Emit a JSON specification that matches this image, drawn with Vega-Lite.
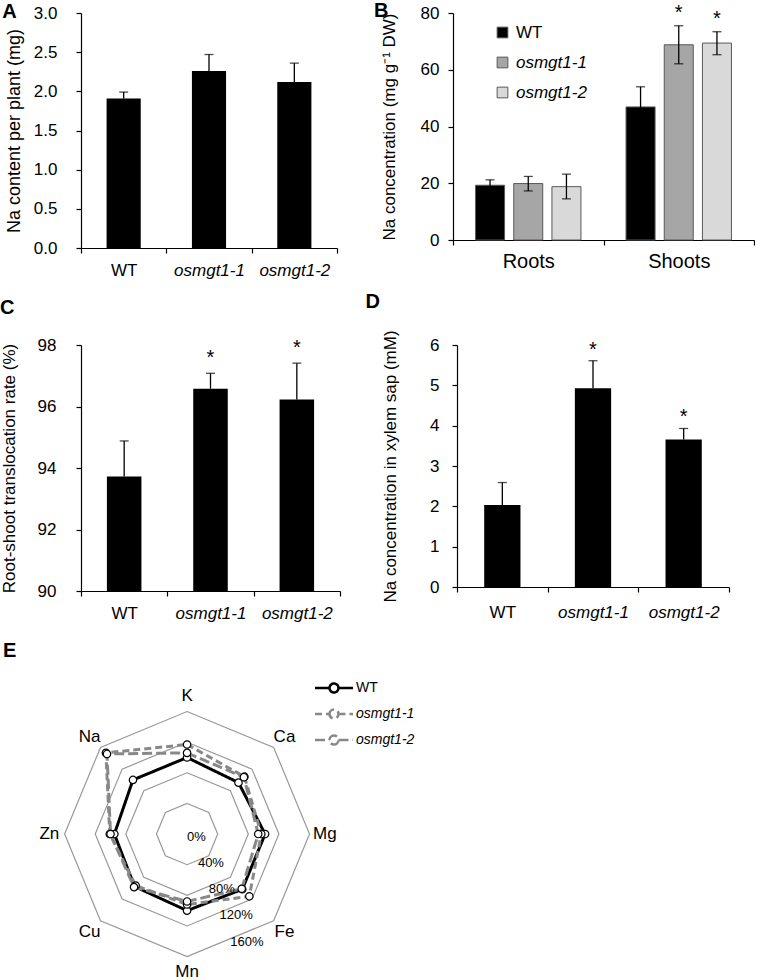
{
  "$schema": "https://vega.github.io/schema/vega-lite/v6.json",
  "padding": {"left": 0, "top": 0, "right": 0, "bottom": 0},
  "background": "white",
  "config": {
    "view": {"stroke": null},
    "font": "Liberation Sans",
    "axis": {"domainColor": "#000", "tickColor": "#000", "labelColor": "#000", "titleColor": "#000", "grid": false, "tickSize": 5, "titleFontWeight": "normal", "labelFontSize": 17, "titleFontSize": 17, "domainWidth": 1.2, "tickWidth": 1.2, "labelOverlap": false},
    "title": {"fontSize": 20, "fontWeight": "bold", "anchor": "start", "frame": "bounds", "color": "#000"},
    "legend": {"padding": 0}
  },
  "datasets": {
    "naPlant": [
      {"genotype": "WT", "value": 1.91, "hi": 1.99},
      {"genotype": "osmgt1-1", "value": 2.26, "hi": 2.47},
      {"genotype": "osmgt1-2", "value": 2.12, "hi": 2.36}
    ],
    "naConc": [
      {"tissue": "Roots", "genotype": "WT", "value": 19.3, "lo": 17.4, "hi": 21.2, "sig": ""},
      {"tissue": "Roots", "genotype": "osmgt1-1", "value": 19.9, "lo": 17.3, "hi": 22.4, "sig": ""},
      {"tissue": "Roots", "genotype": "osmgt1-2", "value": 18.8, "lo": 14.5, "hi": 23.2, "sig": ""},
      {"tissue": "Shoots", "genotype": "WT", "value": 46.9, "lo": 39.8, "hi": 54.0, "sig": ""},
      {"tissue": "Shoots", "genotype": "osmgt1-1", "value": 68.8, "lo": 62.1, "hi": 75.5, "sig": "*"},
      {"tissue": "Shoots", "genotype": "osmgt1-2", "value": 69.4, "lo": 65.3, "hi": 73.4, "sig": "*"}
    ],
    "transloc": [
      {"genotype": "WT", "value": 93.72, "hi": 94.88, "sig": ""},
      {"genotype": "osmgt1-1", "value": 96.58, "hi": 97.08, "sig": "*"},
      {"genotype": "osmgt1-2", "value": 96.23, "hi": 97.41, "sig": "*"}
    ],
    "xylem": [
      {"genotype": "WT", "value": 2.03, "hi": 2.59, "sig": ""},
      {"genotype": "osmgt1-1", "value": 4.93, "hi": 5.61, "sig": "*"},
      {"genotype": "osmgt1-2", "value": 3.66, "hi": 3.93, "sig": "*"}
    ],
    "radar": [
      {"genotype": "WT", "element": "K", "order": 0, "value": 100},
      {"genotype": "WT", "element": "Ca", "order": 1, "value": 95},
      {"genotype": "WT", "element": "Mg", "order": 2, "value": 102},
      {"genotype": "WT", "element": "Fe", "order": 3, "value": 102},
      {"genotype": "WT", "element": "Mn", "order": 4, "value": 100},
      {"genotype": "WT", "element": "Cu", "order": 5, "value": 97},
      {"genotype": "WT", "element": "Zn", "order": 6, "value": 95},
      {"genotype": "WT", "element": "Na", "order": 7, "value": 100},
      {"genotype": "osmgt1-1", "element": "K", "order": 0, "value": 117},
      {"genotype": "osmgt1-1", "element": "Ca", "order": 1, "value": 106},
      {"genotype": "osmgt1-1", "element": "Mg", "order": 2, "value": 97},
      {"genotype": "osmgt1-1", "element": "Fe", "order": 3, "value": 115},
      {"genotype": "osmgt1-1", "element": "Mn", "order": 4, "value": 92},
      {"genotype": "osmgt1-1", "element": "Cu", "order": 5, "value": 95},
      {"genotype": "osmgt1-1", "element": "Zn", "order": 6, "value": 101},
      {"genotype": "osmgt1-1", "element": "Na", "order": 7, "value": 150},
      {"genotype": "osmgt1-2", "element": "K", "order": 0, "value": 106},
      {"genotype": "osmgt1-2", "element": "Ca", "order": 1, "value": 105},
      {"genotype": "osmgt1-2", "element": "Mg", "order": 2, "value": 93},
      {"genotype": "osmgt1-2", "element": "Fe", "order": 3, "value": 101},
      {"genotype": "osmgt1-2", "element": "Mn", "order": 4, "value": 88},
      {"genotype": "osmgt1-2", "element": "Cu", "order": 5, "value": 98},
      {"genotype": "osmgt1-2", "element": "Zn", "order": 6, "value": 100},
      {"genotype": "osmgt1-2", "element": "Na", "order": 7, "value": 148}
    ],
    "elements": [
      {"element": "K", "order": 0, "rings": [40, 80, 120, 160]},
      {"element": "Ca", "order": 1, "rings": [40, 80, 120, 160]},
      {"element": "Mg", "order": 2, "rings": [40, 80, 120, 160]},
      {"element": "Fe", "order": 3, "rings": [40, 80, 120, 160]},
      {"element": "Mn", "order": 4, "rings": [40, 80, 120, 160]},
      {"element": "Cu", "order": 5, "rings": [40, 80, 120, 160]},
      {"element": "Zn", "order": 6, "rings": [40, 80, 120, 160]},
      {"element": "Na", "order": 7, "rings": [40, 80, 120, 160]}
    ],
    "ringLabels": [
      {"level": 0, "label": "0%"},
      {"level": 40, "label": "40%"},
      {"level": 80, "label": "80%"},
      {"level": 120, "label": "120%"},
      {"level": 160, "label": "160%"}
    ]
  },
  "resolve": {"scale": {"color": "independent", "strokeDash": "independent"}, "legend": {"color": "independent", "strokeDash": "independent"}},
  "vconcat": [
    {
      "title": {"text": "E", "orient": "bottom", "anchor": "start", "frame": "bounds", "baseline": "top", "offset": 20, "dx": 3},
      "resolve": {"scale": {"color": "independent", "strokeDash": "independent"}, "legend": {"color": "independent", "strokeDash": "independent"}},
      "vconcat": [
        {
          "resolve": {"scale": {"color": "independent"}, "legend": {"color": "independent"}},
          "hconcat": [
            {
              "width": 256, "height": 235,
              "title": {"text": "A", "dx": -3, "dy": 22},
              "data": {"name": "naPlant"},
              "encoding": {
                "x": {"field": "genotype", "type": "nominal", "sort": ["WT", "osmgt1-1", "osmgt1-2"], "scale": {"paddingInner": 0, "paddingOuter": 0},
                  "axis": {"title": null, "labelAngle": 0, "tickBand": "extent", "labelPadding": 9, "labelFontStyle": {"condition": {"test": "datum.value === 'WT'", "value": "normal"}, "value": "italic"}}}
              },
              "layer": [
                {"mark": {"type": "bar", "color": "#000", "width": {"band": 0.4}},
                 "encoding": {"y": {"field": "value", "type": "quantitative", "scale": {"domain": [0, 3], "nice": false},
                   "axis": {"title": "Na content per plant (mg)", "values": [0, 0.5, 1, 1.5, 2, 2.5, 3], "format": ".1f", "labelPadding": 19, "titlePadding": 10, "titleFontSize": 18}}}},
                {"mark": {"type": "rule", "color": "#000", "strokeWidth": 1.3},
                 "encoding": {"y": {"field": "value", "type": "quantitative", "axis": {"title": "Na content per plant (mg)", "values": [0, 0.5, 1, 1.5, 2, 2.5, 3], "format": ".1f", "labelPadding": 19, "titlePadding": 10, "titleFontSize": 18}}, "y2": {"field": "hi"}}},
                {"mark": {"type": "tick", "color": "#000", "thickness": 1.3, "size": 9, "orient": "horizontal"},
                 "encoding": {"y": {"field": "hi", "type": "quantitative", "axis": {"title": "Na content per plant (mg)", "values": [0, 0.5, 1, 1.5, 2, 2.5, 3], "format": ".1f", "labelPadding": 19, "titlePadding": 10, "titleFontSize": 18}}}}
              ]
            },
            {
              "width": 301, "height": 227,
              "title": {"text": "B", "dx": -6, "dy": 22},
              "data": {"name": "naConc"},
              "encoding": {
                "x": {"field": "tissue", "type": "nominal", "sort": ["Roots", "Shoots"], "scale": {"paddingInner": 0, "paddingOuter": 0},
                  "axis": {"title": null, "labelAngle": 0, "tickBand": "extent", "labelFontSize": 20, "labelPadding": 6}},
                "xOffset": {"field": "genotype", "type": "nominal", "sort": ["WT", "osmgt1-1", "osmgt1-2"], "scale": {"paddingInner": 0.24, "paddingOuter": 0.59}}
              },
              "layer": [
                {"mark": {"type": "bar", "stroke": "#595959", "strokeWidth": 1},
                 "encoding": {
                   "y": {"field": "value", "type": "quantitative", "scale": {"domain": [0, 80], "nice": false},
                     "axis": {"title": "Na concentration (mg g⁻¹ DW)", "values": [0, 20, 40, 60, 80], "labelPadding": 9, "titlePadding": 22}},
                   "color": {"field": "genotype", "type": "nominal", "sort": ["WT", "osmgt1-1", "osmgt1-2"],
                     "scale": {"domain": ["WT", "osmgt1-1", "osmgt1-2"], "range": ["#000000", "#a6a6a6", "#d9d9d9"]},
                     "legend": {"title": null, "orient": "none", "legendX": 41, "legendY": 11, "symbolType": "square", "symbolSize": 115,
                       "symbolStrokeColor": "#595959", "symbolStrokeWidth": 1, "labelFontSize": 17, "rowPadding": 12, "labelOffset": 5,
                       "labelExpr": "datum.label === 'WT' ? datum.label : '\u00a0\u00a0' + datum.label",
                       "encode": {"labels": {"update": {"fontStyle": {"signal": "datum.value === 'WT' ? 'normal' : 'italic'"}}}}}}
                 }},
                {"mark": {"type": "rule", "color": "#000", "strokeWidth": 1.3},
                 "encoding": {"y": {"field": "lo", "type": "quantitative"}, "y2": {"field": "hi"}}},
                {"mark": {"type": "tick", "color": "#000", "thickness": 1.3, "size": 9, "orient": "horizontal"},
                 "encoding": {"y": {"field": "hi", "type": "quantitative"}}},
                {"mark": {"type": "tick", "color": "#000", "thickness": 1.3, "size": 9, "orient": "horizontal"},
                 "encoding": {"y": {"field": "lo", "type": "quantitative"}}},
                {"mark": {"type": "text", "fontSize": 20, "baseline": "alphabetic", "dy": -7},
                 "encoding": {"y": {"field": "hi", "type": "quantitative"}, "text": {"field": "sig"}}}
              ]
            }
          ],
          "spacing": 36
        },
        {
          "hconcat": [
            {
              "width": 259, "height": 246,
              "title": {"text": "C", "dx": 0, "offset": 18},
              "data": {"name": "transloc"},
              "encoding": {
                "x": {"field": "genotype", "type": "nominal", "sort": ["WT", "osmgt1-1", "osmgt1-2"], "scale": {"paddingInner": 0, "paddingOuter": 0},
                  "axis": {"title": null, "labelAngle": 0, "tickBand": "extent", "labelPadding": 9, "labelFontStyle": {"condition": {"test": "datum.value === 'WT'", "value": "normal"}, "value": "italic"}}}
              },
              "layer": [
                {"mark": {"type": "bar", "color": "#000", "width": {"band": 0.4}},
                 "encoding": {"y": {"field": "value", "type": "quantitative", "scale": {"domain": [90, 98], "nice": false, "zero": false},
                   "axis": {"title": "Root-shoot translocation rate (%)", "values": [90, 92, 94, 96, 98], "labelPadding": 20, "titlePadding": 19}},
                   "y2": {"datum": 90}}},
                {"mark": {"type": "rule", "color": "#000", "strokeWidth": 1.3},
                 "encoding": {"y": {"field": "value", "type": "quantitative"}, "y2": {"field": "hi"}}},
                {"mark": {"type": "tick", "color": "#000", "thickness": 1.3, "size": 9, "orient": "horizontal"},
                 "encoding": {"y": {"field": "hi", "type": "quantitative"}}},
                {"mark": {"type": "text", "fontSize": 20, "baseline": "alphabetic", "dy": -9},
                 "encoding": {"y": {"field": "hi", "type": "quantitative"}, "text": {"field": "sig"}}}
              ]
            },
            {
              "width": 272, "height": 242,
              "title": {"text": "D", "dx": -16, "offset": 18},
              "data": {"name": "xylem"},
              "encoding": {
                "x": {"field": "genotype", "type": "nominal", "sort": ["WT", "osmgt1-1", "osmgt1-2"], "scale": {"paddingInner": 0, "paddingOuter": 0},
                  "axis": {"title": null, "labelAngle": 0, "tickBand": "extent", "labelPadding": 12, "labelFontStyle": {"condition": {"test": "datum.value === 'WT'", "value": "normal"}, "value": "italic"}}}
              },
              "layer": [
                {"mark": {"type": "bar", "color": "#000", "width": {"band": 0.4}},
                 "encoding": {"y": {"field": "value", "type": "quantitative", "scale": {"domain": [0, 6], "nice": false},
                   "axis": {"title": "Na concentration in xylem sap (mM)", "values": [0, 1, 2, 3, 4, 5, 6], "labelPadding": 13, "titlePadding": 30}}}},
                {"mark": {"type": "rule", "color": "#000", "strokeWidth": 1.3},
                 "encoding": {"y": {"field": "value", "type": "quantitative"}, "y2": {"field": "hi"}}},
                {"mark": {"type": "tick", "color": "#000", "thickness": 1.3, "size": 9, "orient": "horizontal"},
                 "encoding": {"y": {"field": "hi", "type": "quantitative"}}},
                {"mark": {"type": "text", "fontSize": 20, "baseline": "alphabetic", "dy": -5},
                 "encoding": {"y": {"field": "hi", "type": "quantitative"}, "text": {"field": "sig"}}}
              ]
            }
          ],
          "spacing": 24
        }
      ],
      "spacing": 13
    },
    {
      "width": 300, "height": 294,
      "layer": [
        {"data": {"name": "elements"},
         "transform": [
           {"flatten": ["rings"], "as": ["ring"]},
           {"calculate": "datum.ring * sin(datum.order * PI / 4)", "as": "px"},
           {"calculate": "datum.ring * cos(datum.order * PI / 4)", "as": "py"}
         ],
         "mark": {"type": "line", "interpolate": "linear-closed", "color": "#999999", "strokeWidth": 1.2},
         "encoding": {
           "x": {"field": "px", "type": "quantitative", "scale": {"domain": [-138.6, 253.4], "nice": false, "zero": false}, "axis": null},
           "y": {"field": "py", "type": "quantitative", "scale": {"domain": [-188, 196], "nice": false, "zero": false}, "axis": null},
           "detail": {"field": "ring", "type": "nominal"},
           "order": {"field": "order", "type": "quantitative"}
         }},
        {"data": {"name": "radar"},
         "transform": [
           {"calculate": "datum.value * sin(datum.order * PI / 4)", "as": "px"},
           {"calculate": "datum.value * cos(datum.order * PI / 4)", "as": "py"}
         ],
         "mark": {"type": "line", "interpolate": "linear-closed", "strokeWidth": 3},
         "encoding": {
           "x": {"field": "px", "type": "quantitative"},
           "y": {"field": "py", "type": "quantitative"},
           "order": {"field": "order", "type": "quantitative"},
           "color": {"field": "genotype", "type": "nominal", "sort": ["WT", "osmgt1-1", "osmgt1-2"],
             "scale": {"domain": ["WT", "osmgt1-1", "osmgt1-2"], "range": ["#000000", "#888888", "#888888"]},
             "legend": {"title": null, "orient": "none", "legendX": 246, "legendY": -3,
               "symbolType": "M-3.8,0H-0.9M0.9,0H3.8M-0.9,0A0.9,0.9,0,1,1,0.9,0A0.9,0.9,0,1,1,-0.9,0",
               "symbolSize": 100, "symbolStrokeWidth": 2.5, "labelFontSize": 14, "rowPadding": 6, "labelOffset": 15,
               "encode": {"labels": {"update": {"fontStyle": {"signal": "datum.value === 'WT' ? 'normal' : 'italic'"}}}, "symbols": {"update": {"fill": {"value": "#ffffff"}}}}}},
           "strokeDash": {"field": "genotype", "type": "nominal", "sort": ["WT", "osmgt1-1", "osmgt1-2"],
             "scale": {"domain": ["WT", "osmgt1-1", "osmgt1-2"], "range": [[1, 0], [7, 4], [10, 4]]},
             "legend": {"title": null, "orient": "none", "legendX": 246, "legendY": -3,
               "symbolType": "M-3.8,0H-0.9M0.9,0H3.8M-0.9,0A0.9,0.9,0,1,1,0.9,0A0.9,0.9,0,1,1,-0.9,0",
               "symbolSize": 100, "symbolStrokeWidth": 2.5, "labelFontSize": 14, "rowPadding": 6, "labelOffset": 15,
               "encode": {"labels": {"update": {"fontStyle": {"signal": "datum.value === 'WT' ? 'normal' : 'italic'"}}}, "symbols": {"update": {"fill": {"value": "#ffffff"}}}}}}
         }},
        {"data": {"name": "radar"},
         "transform": [
           {"calculate": "datum.value * sin(datum.order * PI / 4)", "as": "px"},
           {"calculate": "datum.value * cos(datum.order * PI / 4)", "as": "py"}
         ],
         "mark": {"type": "point", "filled": true, "fill": "#ffffff", "stroke": "#000000", "strokeWidth": 1.2, "size": 55, "opacity": 1},
         "encoding": {
           "x": {"field": "px", "type": "quantitative"},
           "y": {"field": "py", "type": "quantitative"}
         }},
        {"data": {"name": "elements"},
         "transform": [
           {"calculate": "180 * sin(datum.order * PI / 4)", "as": "px"},
           {"calculate": "180 * cos(datum.order * PI / 4)", "as": "py"}
         ],
         "mark": {"type": "text", "fontSize": 17, "color": "#000"},
         "encoding": {
           "x": {"field": "px", "type": "quantitative"},
           "y": {"field": "py", "type": "quantitative"},
           "text": {"field": "element"}
         }},
        {"data": {"name": "ringLabels"},
         "transform": [
           {"calculate": "datum.level * 0.924 * sin(7 * PI / 8)", "as": "px"},
           {"calculate": "datum.level * 0.924 * cos(7 * PI / 8)", "as": "py"}
         ],
         "mark": {"type": "text", "fontSize": 13, "align": "left", "baseline": "middle", "dy": 3, "color": "#000"},
         "encoding": {
           "x": {"field": "px", "type": "quantitative"},
           "y": {"field": "py", "type": "quantitative"},
           "text": {"field": "label"}
         }}
      ]
    }
  ],
  "spacing": 20
}
